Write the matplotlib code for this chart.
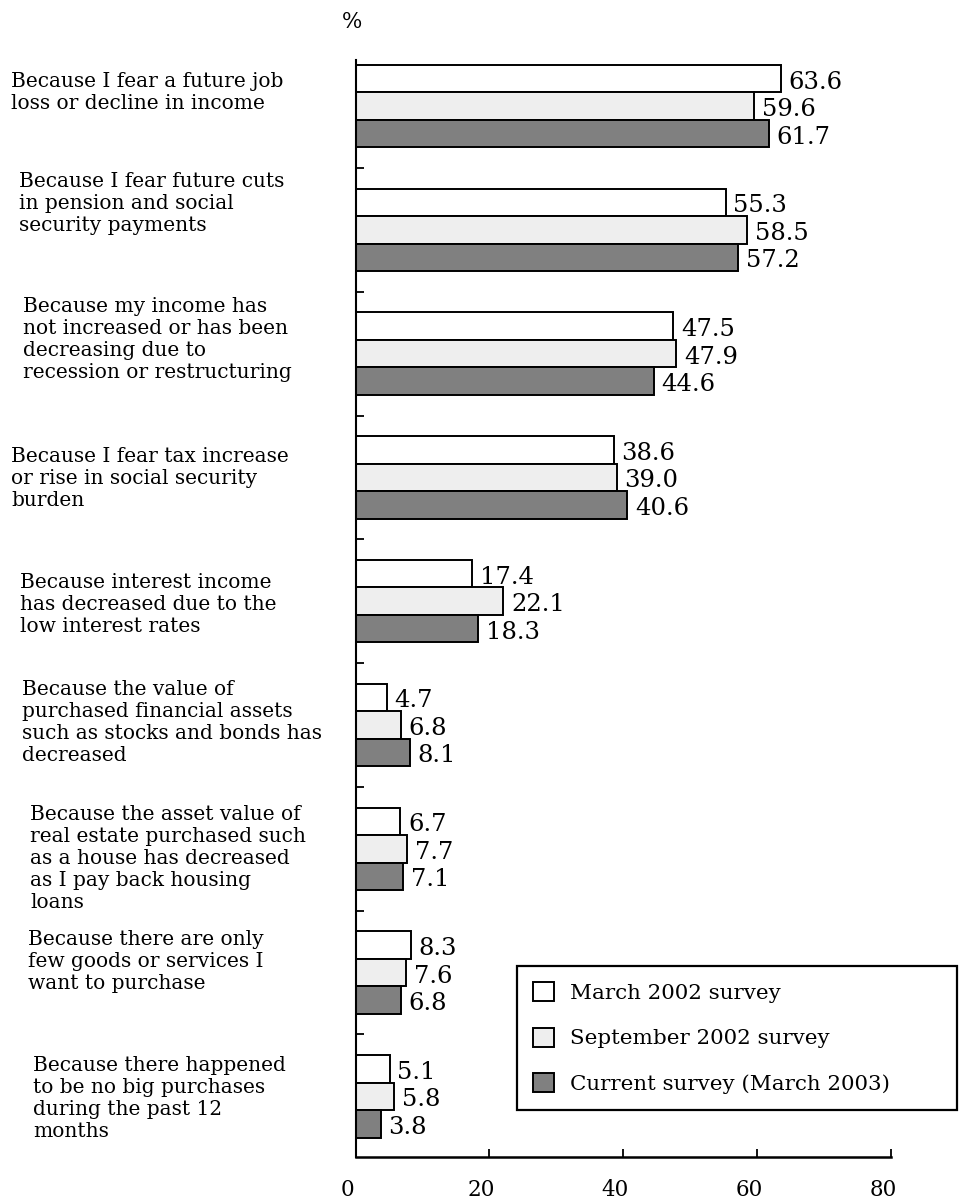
import matplotlib
matplotlib.use("Agg")
import matplotlib.pyplot as plt
import matplotlib.transforms as mtransforms
from matplotlib.patches import Patch
import numpy as np

# ---------------- data ----------------
categories = [
    "Because I fear a future job\nloss or decline in income",
    "Because I fear future cuts\nin pension and social\nsecurity payments",
    "Because my income has\nnot increased or has been\ndecreasing due to\nrecession or restructuring",
    "Because I fear tax increase\nor rise in social security\nburden",
    "Because interest income\nhas decreased due to the\nlow interest rates",
    "Because the value of\npurchased financial assets\nsuch as stocks and bonds has\ndecreased",
    "Because the asset value of\nreal estate purchased such\nas a house has decreased\nas I pay back housing\nloans",
    "Because there are only\nfew goods or services I\nwant to purchase",
    "Because there happened\nto be no big purchases\nduring the past 12\nmonths",
]
series_names = ["March 2002 survey", "September 2002 survey", "Current survey (March 2003)"]
march2002 = [63.6, 55.3, 47.5, 38.6, 17.4, 4.7, 6.7, 8.3, 5.1]
sep2002 = [59.6, 58.5, 47.9, 39.0, 22.1, 6.8, 7.7, 7.6, 5.8]
mar2003 = [61.7, 57.2, 44.6, 40.6, 18.3, 8.1, 7.1, 6.8, 3.8]
x_ticks = [0, 20, 40, 60, 80]

# ---------------- layout / style ----------------
W, H = 960, 1204
FONT = "DejaVu Serif"
colors = ["#ffffff", "#eeeeee", "#808080"]
label_left_px = [11, 19, 23, 11, 20, 22, 30, 28, 33]
label_dy_px = [-14, -26, -14, 1, 3, -2, 10, -11, 2]

plt.rcParams["font.family"] = [FONT, "DejaVu Sans"]

fig = plt.figure(figsize=(W / 100, H / 100), dpi=100)
ax = fig.add_axes([355.5 / W, 1 - 1157 / H, (891 - 355.5) / W, (1157 - 60) / H])

y = np.arange(len(categories))
bh = 0.222
all_series = [march2002, sep2002, mar2003]
for k, vals in enumerate(all_series):
    pos = y + (k - 1) * bh
    ax.barh(pos, vals, height=bh, color=colors[k], edgecolor="black",
            linewidth=1.4, label=series_names[k], zorder=2)
    for p, v in zip(pos, vals):
        ax.annotate(f"{v:.1f}", (v, p), xytext=(5.5, -2.5), textcoords="offset points",
                    ha="left", va="center", fontsize=17.5, family=FONT)

ax.set_xlim(0, 80)
ax.set_ylim(8.49, -0.372)
ax.set_xticks(x_ticks)
ax.set_xticklabels([str(t) for t in x_ticks], fontsize=15.5)
ax.set_yticks(np.arange(0.5, 8.0, 1.0))
ax.set_yticklabels([])
ax.tick_params(axis="y", direction="in", length=6, width=1.3, left=True)
ax.tick_params(axis="x", direction="in", length=6, width=1.3, pad=16)
for s in ["top", "right"]:
    ax.spines[s].set_visible(False)
ax.spines["left"].set_linewidth(1.5)
ax.spines["bottom"].set_linewidth(1.8)

shift = mtransforms.ScaledTranslation(-8 / 100, 0, fig.dpi_scale_trans)
for lab in ax.get_xticklabels():
    lab.set_transform(lab.get_transform() + shift)

# category labels
blend = mtransforms.blended_transform_factory(fig.transFigure, ax.transData)
for i, txt in enumerate(categories):
    tr = blend + mtransforms.ScaledTranslation(0, -label_dy_px[i] / 100, fig.dpi_scale_trans)
    fig.text(label_left_px[i] / W, i, txt, transform=tr, ha="left", va="center",
             fontsize=14.5, linespacing=1.2, family=FONT)

fig.text(352 / W, 1 - 22 / H, "%", ha="center", va="center", fontsize=15.5, family=FONT)

# legend
handles = [Patch(facecolor=colors[k], edgecolor="black", linewidth=1.4) for k in range(3)]
leg = ax.legend(handles, series_names, loc="upper left",
                bbox_to_anchor=(517 / W, 1 - 1119 / H, (957 - 517) / W, (1119 - 966) / H),
                bbox_transform=fig.transFigure, mode="expand", borderaxespad=0,
                fancybox=False, framealpha=1, edgecolor="black", fontsize=15.4,
                handlelength=1.0, handleheight=1.0, handletextpad=0.75,
                labelspacing=1.15, borderpad=0.75)
leg.get_frame().set_linewidth(1.6)
for t in leg.get_texts():
    t.set_family(FONT)

fig.savefig("out.png", dpi=100, facecolor="white")
